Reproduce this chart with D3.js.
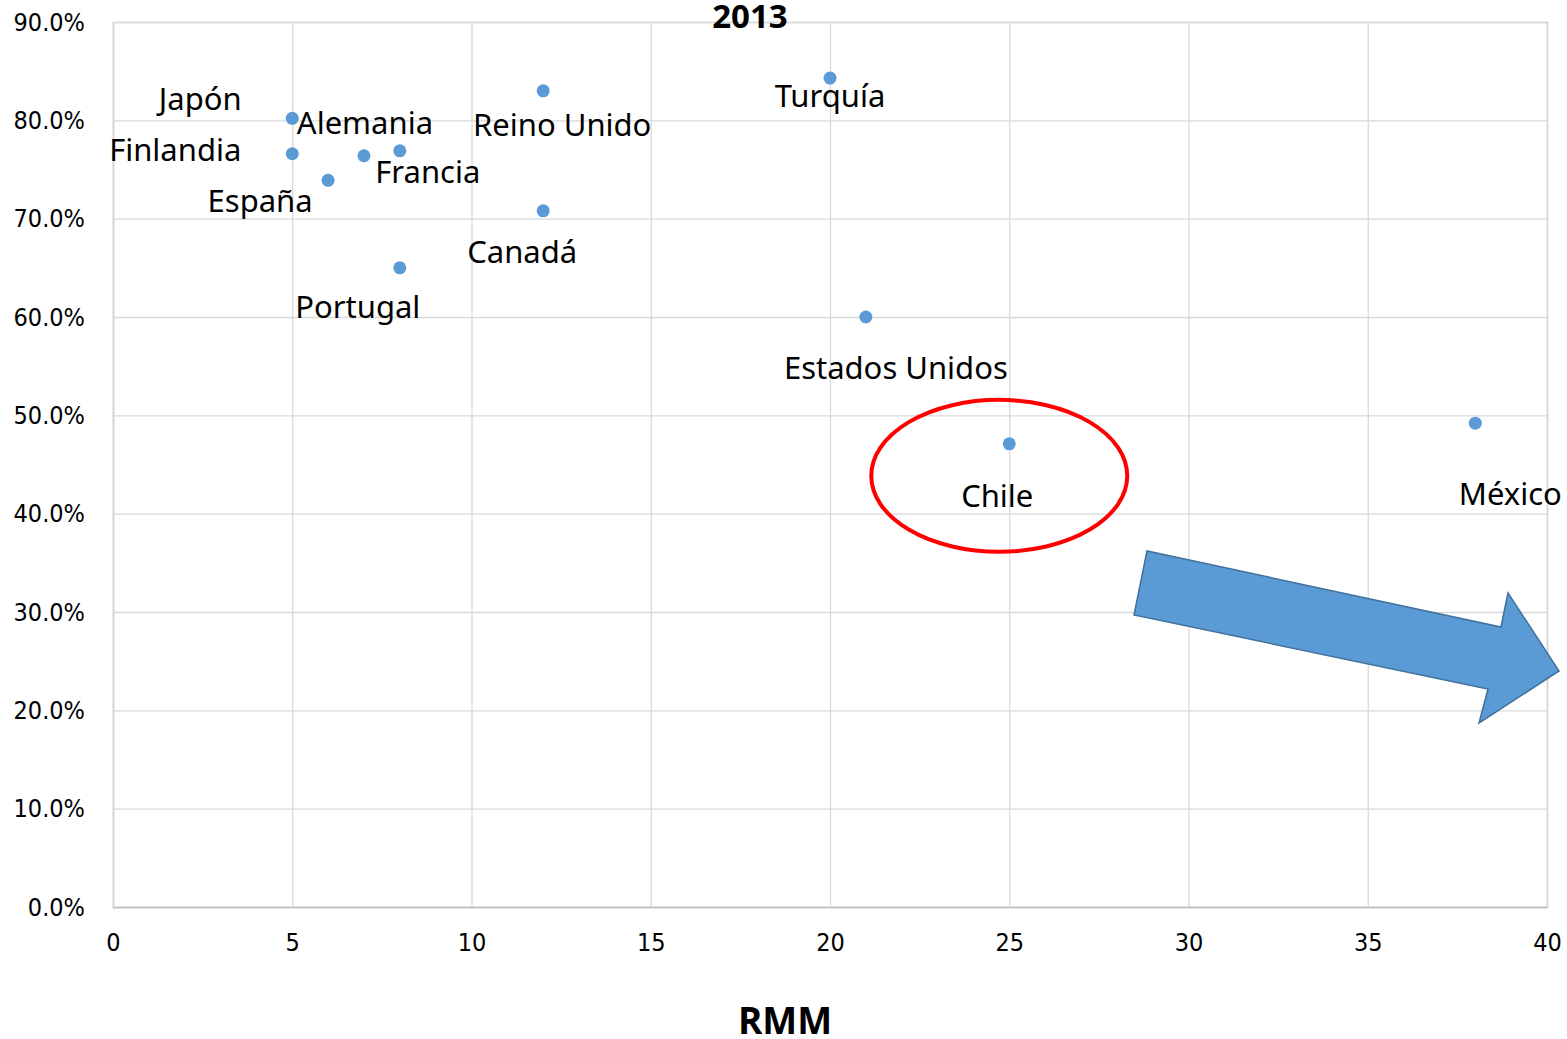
<!DOCTYPE html>
<html>
<head>
<meta charset="utf-8">
<script src="https://cdn.jsdelivr.net/npm/d3@7"></script>
<style>
  body { margin: 0; background: #fff; }
  svg { display: block; }
</style>
</head>
<body>
<svg id="chart" width="1567" height="1039"></svg>
<script>
// data
const countries = ["Japón", "Finlandia", "Alemania", "Francia", "España", "Portugal",
  "Reino Unido", "Canadá", "Turquía", "Estados Unidos", "Chile", "México"];
const rmm = [5, 5, 7, 8, 6, 8, 12, 12, 20, 21, 25, 38];
const share = [0.802, 0.766, 0.764, 0.769, 0.739, 0.650, 0.830, 0.708, 0.843, 0.600, 0.471, 0.492];
const xTicks = [0, 5, 10, 15, 20, 25, 30, 35, 40];
const yTicks = [0, 0.1, 0.2, 0.3, 0.4, 0.5, 0.6, 0.7, 0.8, 0.9];

// label placement, pixel offsets from each point (Excel moved them by hand)
const labelDx = [-92, -117, 1, 28, -68, -42, 19, -21, 0, 30, -12, 35];
const labelDy = [-8, 7, -22, 32, 32, 50, 45, 52, 29, 62, 63, 82];

const margin = {left: 113, right: 20, top: 22, bottom: 132};
const width = 1567, height = 1039;

const svg = d3.select("#chart");

const x = d3.scaleLinear().domain([0, 40]).range([margin.left, width - margin.right]);
const y = d3.scaleLinear().domain([0, 0.9]).range([height - margin.bottom, margin.top]);

const plotW = x(40) - x(0), plotH = y(0) - y(0.9);
const tickFont = "'Liberation Sans Narrow', 'DejaVu Sans Condensed', sans-serif";

// y gridlines + labels
const yAxis = svg.append("g")
  .attr("transform", `translate(${x(0)},0)`)
  .call(d3.axisLeft(y).tickValues(yTicks).tickFormat(d3.format(".1%"))
    .tickSize(-plotW).tickPadding(28));
yAxis.select(".domain").attr("stroke", "#d9d9d9").attr("stroke-width", 1.3);
yAxis.selectAll(".tick line").attr("stroke", "#d9d9d9").attr("stroke-width", 1.3);
yAxis.selectAll(".tick text")
  .attr("font-family", tickFont).attr("font-size", 25).attr("fill", "#000");

// x gridlines + labels
const xAxis = svg.append("g")
  .attr("transform", `translate(0,${y(0)})`)
  .call(d3.axisBottom(x).tickValues(xTicks).tickSize(-plotH).tickPadding(26));
xAxis.select(".domain").attr("stroke", "#bfbfbf").attr("stroke-width", 1.5);
xAxis.selectAll(".tick line").attr("stroke", "#d9d9d9").attr("stroke-width", 1.3);
xAxis.selectAll(".tick text")
  .attr("font-family", tickFont).attr("font-size", 25).attr("fill", "#000");

// title
svg.append("text")
  .attr("x", 750).attr("y", 28)
  .attr("text-anchor", "middle")
  .attr("font-family", "'Open Sans', sans-serif").attr("font-weight", "bold")
  .attr("font-size", 33)
  .text("2013");

// x axis title
svg.append("text")
  .attr("x", 785).attr("y", 1034)
  .attr("text-anchor", "middle")
  .attr("font-family", "'Open Sans', sans-serif").attr("font-weight", "bold")
  .attr("font-size", 37)
  .text("RMM");

// points
svg.append("g").selectAll("circle")
  .data(countries)
  .join("circle")
  .attr("cx", (d, i) => x(rmm[i]))
  .attr("cy", (d, i) => y(share[i]))
  .attr("r", 6.5)
  .attr("fill", "#5b9bd5");

// labels
svg.append("g").selectAll("text")
  .data(countries)
  .join("text")
  .attr("x", (d, i) => x(rmm[i]) + labelDx[i])
  .attr("y", (d, i) => y(share[i]) + labelDy[i])
  .attr("text-anchor", "middle")
  .attr("font-family", "'Noto Sans', sans-serif")
  .attr("font-size", 31)
  .attr("fill", "#000")
  .text(d => d);

// red circle round Chile
const chileIdx = countries.indexOf("Chile");
svg.append("ellipse")
  .attr("cx", x(rmm[chileIdx]) - 10)
  .attr("cy", y(share[chileIdx]) + 32)
  .attr("rx", 128).attr("ry", 76)
  .attr("fill", "none")
  .attr("stroke", "#ff0000")
  .attr("stroke-width", 4);

// block arrow pointing right-down
const arrow = [[1147, 551], [1134, 615], [1488, 689], [1479, 723],
  [1559, 671], [1508, 593], [1501, 627]];
svg.append("polygon")
  .attr("points", arrow.map(p => p.join(",")).join(" "))
  .attr("fill", "#5b9bd5")
  .attr("stroke", "#41719c")
  .attr("stroke-width", 1.5);
</script>
</body>
</html>
